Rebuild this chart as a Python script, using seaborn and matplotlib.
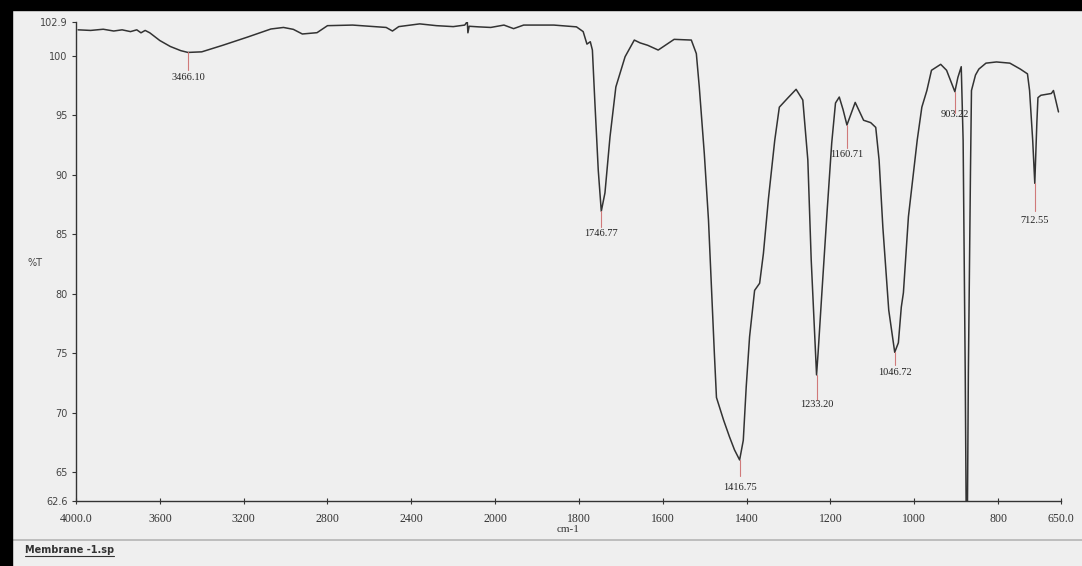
import numpy as np
import pandas as pd
import matplotlib
matplotlib.use("Agg")
import matplotlib.pyplot as plt
import seaborn as sns
from matplotlib.patches import Rectangle
from matplotlib.lines import Line2D

wavenumber = [3990, 3930, 3870, 3820, 3780, 3740, 3710, 3690, 3670, 3648,
              3600, 3550, 3500, 3466.10, 3400, 3300, 3180, 3070, 3010, 2963,
              2920, 2850, 2800, 2680, 2600, 2520, 2490, 2460, 2360, 2280,
              2200, 2145, 2133, 2130, 2124, 2080, 2021, 1979, 1956, 1932,
              1860, 1806, 1790, 1781, 1773, 1768, 1762, 1754, 1746.77, 1738,
              1726, 1712, 1690, 1668, 1654, 1636, 1611, 1587, 1573, 1532,
              1520, 1513, 1501, 1491, 1484, 1477, 1472, 1455, 1441, 1429,
              1416.75, 1408, 1401, 1393, 1381, 1369, 1360, 1348, 1333, 1322,
              1301, 1282, 1266, 1254, 1246, 1233.20, 1229.6, 1220.5, 1207.8, 1197,
              1188, 1179, 1170, 1160.71, 1141, 1121, 1104, 1092, 1084, 1075,
              1061, 1046.72, 1038, 1031, 1026, 1014, 993, 982, 970, 959,
              937, 923, 903.22, 896, 888, 883.5, 878.5, 876, 873.5, 871,
              866, 863.6, 854, 846, 829, 804, 772, 747, 730, 725,
              717.5, 712.55, 707.6, 705, 698, 673, 668, 656]
transmittance = [102.2, 102.15, 102.25, 102.1, 102.2, 102.05, 102.2, 101.95, 102.15, 101.95,
                 101.3, 100.8, 100.45, 100.3, 100.35, 100.9, 101.6, 102.27, 102.4, 102.24,
                 101.85, 101.96, 102.55, 102.6, 102.5, 102.4, 102.1, 102.47, 102.7, 102.55,
                 102.47, 102.6, 102.9, 101.95, 102.5, 102.45, 102.4, 102.6, 102.3, 102.6,
                 102.6, 102.45, 102.05, 101.0, 101.2, 100.5, 96.05, 90.4, 86.95, 88.5,
                 93.2, 97.4, 99.94, 101.34, 101.1, 100.9, 100.5, 101.07, 101.4, 101.34,
                 100.2, 97.4, 91.8, 86.2, 80.6, 75.0, 71.3, 69.4, 68.0, 66.9,
                 66.05, 67.7, 72.2, 76.4, 80.3, 80.9, 83.4, 88.0, 92.9, 95.7,
                 96.5, 97.2, 96.3, 91.26, 82.9, 73.2, 75.0, 80.1, 87.06, 92.7,
                 96.05, 96.55, 95.5, 94.2, 96.1, 94.6, 94.4, 94.0, 91.26, 85.6,
                 78.65, 75.1, 75.9, 78.9, 80.1, 86.5, 92.94, 95.7, 97.1, 98.8,
                 99.3, 98.8, 97.0, 98.2, 99.1, 92.9, 73.4, 60.5, 60.5, 73.4,
                 90.2, 97.1, 98.4, 98.9, 99.4, 99.5, 99.4, 98.9, 98.5, 97.1,
                 92.9, 89.3, 94.4, 96.5, 96.7, 96.85, 97.1, 95.3]

peak_wn = [3466.10, 1746.77, 1416.75, 1233.20, 1160.71, 1046.72, 903.22, 712.55]
peak_T = [100.3, 86.95, 66.05, 73.2, 94.2, 75.1, 97.0, 89.3]

x_ticks = [4000, 3600, 3200, 2800, 2400, 2000, 1800, 1600, 1400, 1200, 1000, 800, 650]
x_tick_labels = ["4000.0", "3600", "3200", "2800", "2400", "2000", "1800",
                 "1600", "1400", "1200", "1000", "800", "650.0"]
y_ticks = [62.6, 65, 70, 75, 80, 85, 90, 95, 100, 102.9]
y_tick_labels = ["62.6", "65", "70", "75", "80", "85", "90", "95", "100", "102.9"]

# marker length / label drop below each peak, in %T units
marker_len = [1.5, 1.35, 1.35, 2.1, 1.9, 1.1, 1.75, 2.3]
label_drop = [2.1, 1.85, 2.35, 2.5, 2.5, 1.7, 1.95, 3.1]

df = pd.DataFrame({"wn": wavenumber, "T": transmittance})

# --- STYLE ---
sns.set_style("ticks")
plt.rcParams["font.family"] = ["DejaVu Sans"]
BG = "#efefef"
INK = "#333333"

fig = plt.figure(figsize=(10.82, 5.66), dpi=100, facecolor=BG)
ax = fig.add_axes([76 / 1082, 65 / 566, 985 / 1082, 479.5 / 566])
ax.set_facecolor(BG)

sns.lineplot(data=df, x="wn", y="T", sort=False, estimator=None,
             color=INK, linewidth=1.1, ax=ax)

# x axis: 4000-2000 compressed by 2 relative to 2000-650 (instrument style)
def fwd(x):
    x = np.asarray(x, dtype=float)
    return np.where(x > 2000, 2000 + (x - 2000) / 2, x)

def inv(t):
    t = np.asarray(t, dtype=float)
    return np.where(t > 2000, 2000 + (t - 2000) * 2, t)

ax.set_xscale("function", functions=(fwd, inv))
ax.set_xlim(4000, 650)
ax.set_ylim(62.6, 102.9)

ax.set_xticks(x_ticks)
ax.set_xticklabels(x_tick_labels, family="Liberation Serif", fontsize=8.5, color=INK)
ax.set_yticks(y_ticks)
ax.set_yticklabels(y_tick_labels, fontsize=7, color="#444444")
ax.xaxis.set_minor_locator(matplotlib.ticker.NullLocator())
ax.tick_params(axis="x", direction="inout", length=5, width=0.8, color=INK, pad=6)
ax.tick_params(axis="y", direction="out", length=3, width=0.8, color=INK, pad=3)

sns.despine(ax=ax)
for s in ["left", "bottom"]:
    ax.spines[s].set_color(INK)
    ax.spines[s].set_linewidth(1.0)

ax.set_xlabel("cm-1", family="Liberation Serif", fontsize=8, color=INK, labelpad=0)
ax.set_ylabel("%T", rotation=0, fontsize=7, color="#444444")
ax.yaxis.set_label_coords(-0.042, 0.486)

# peak markers
for wn, t, ml, ld in zip(peak_wn, peak_T, marker_len, label_drop):
    ax.plot([wn, wn], [t, t - ml], color="#d07a7a", linewidth=0.8)
    ax.text(wn, t - ld, f"{wn:.2f}", ha="center", va="center",
            family="Liberation Serif", fontsize=7.5, color="#222222")

# photo frame: black edges, footer rule and file name
fig.patches.append(Rectangle((0, 1 - 10 / 566), 1, 10 / 566, transform=fig.transFigure,
                             color="black", zorder=10))
fig.patches.append(Rectangle((0, 0), 12 / 1082, 1, transform=fig.transFigure,
                             color="black", zorder=10))
fig.add_artist(Line2D([12 / 1082, 1], [26 / 566, 26 / 566], color="#b5b5b5", linewidth=1.2))
name = fig.text(25 / 1082, 16 / 566, "Membrane -1.sp", fontsize=7, weight="bold",
                color="#333333", va="center")
fig.canvas.draw()
bb = name.get_window_extent().transformed(fig.transFigure.inverted())
fig.add_artist(Line2D([bb.x0, bb.x1], [bb.y0 - 0.002, bb.y0 - 0.002],
                      color="#333333", linewidth=0.8))

plt.savefig("out.png", dpi=100, facecolor=BG)
